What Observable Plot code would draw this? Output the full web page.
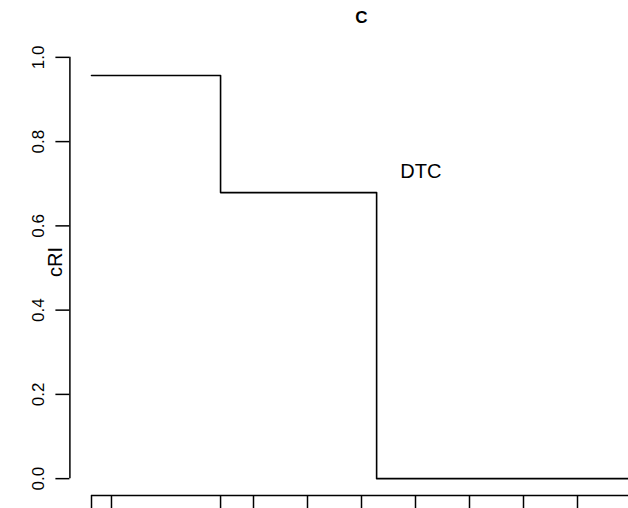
<!DOCTYPE html>
<html>
<head>
<meta charset="utf-8">
<script src="https://cdn.jsdelivr.net/npm/d3@7"></script>
<script src="https://cdn.jsdelivr.net/npm/@observablehq/plot@0.6"></script>
<style>
  html, body { margin: 0; padding: 0; background: white; overflow: hidden; }
  #chart svg { display: block; }
</style>
</head>
<body>
<div id="chart"></div>
<script>
// Step curve (x in axis units, y = cRI)
const stepX = [0, 2.39, 5.28, 10];
const stepY = [0.957, 0.679, 0, 0];

// Axis ticks
const xTicks = [0, 0.37, 2.39, 3, 4, 5, 6, 7, 8, 9, 10];
const yTicks = [0, 0.2, 0.4, 0.6, 0.8, 1.0];
const yTickLabels = ["0.0", "0.2", "0.4", "0.6", "0.8", "1.0"];

// Texts
const titleText = "C";
const yLabel = "cRI";
const annotations = [{x: 6.1, y: 0.729, label: "DTC"}];

const steps = stepX.map((x, i) => ({x, y: stepY[i]}));
const yLab = yTicks.map((v, i) => ({y: v, label: yTickLabels[i]}));
const font = "Liberation Sans, Arial, Helvetica, sans-serif";

const W = 628, H = 508, ML = 69.4, MR = -24.6, MT = 40, MB = 13;
const frameW = W - ML - MR;

const chart = Plot.plot({
  width: W,
  height: H,
  marginLeft: ML,
  marginRight: MR,
  marginTop: MT,
  marginBottom: MB,
  style: {fontFamily: font, background: "white", color: "black"},
  x: {domain: [-0.4, 10.4], range: [ML, W - MR], axis: null},
  y: {domain: [-0.04, 1.04], range: [H - MB, MT], axis: null},
  marks: [
    // x axis (labels fall outside the picture)
    Plot.ruleY([-0.04], {x1: xTicks[0], x2: xTicks[xTicks.length - 1], stroke: "black", strokeWidth: 1.5}),
    Plot.axisX(xTicks, {anchor: "bottom", label: null, tickSize: 14, tickFormat: () => "", stroke: "black", strokeWidth: 1.5, strokeOpacity: 1}),
    // y axis
    Plot.ruleX([-0.4], {y1: yTicks[0], y2: yTicks[yTicks.length - 1], stroke: "black", strokeWidth: 1.5}),
    Plot.tickY(yTicks, {y: d => d, insetLeft: -14, insetRight: frameW, stroke: "black", strokeWidth: 1.5}),
    Plot.text(yLab, {y: "y", text: "label", frameAnchor: "left", textAnchor: "middle", dx: -31, rotate: -90, fontSize: 17, fill: "black"}),
    // y label
    Plot.text([yLabel], {text: d => d, frameAnchor: "left", textAnchor: "middle", dx: -14, dy: -6, rotate: -90, fontSize: 20, fill: "black"}),
    // title
    Plot.text([titleText], {text: d => d, frameAnchor: "top", dy: -30, fontSize: 17, fontWeight: "bold", fill: "black"}),
    // step line
    Plot.line(steps, {x: "x", y: "y", curve: "step-after", stroke: "black", strokeWidth: 1.6}),
    // annotation
    Plot.text(annotations, {x: "x", y: "y", text: "label", fontSize: 20, fill: "black"})
  ]
});
document.getElementById("chart").appendChild(chart);
</script>
</body>
</html>
